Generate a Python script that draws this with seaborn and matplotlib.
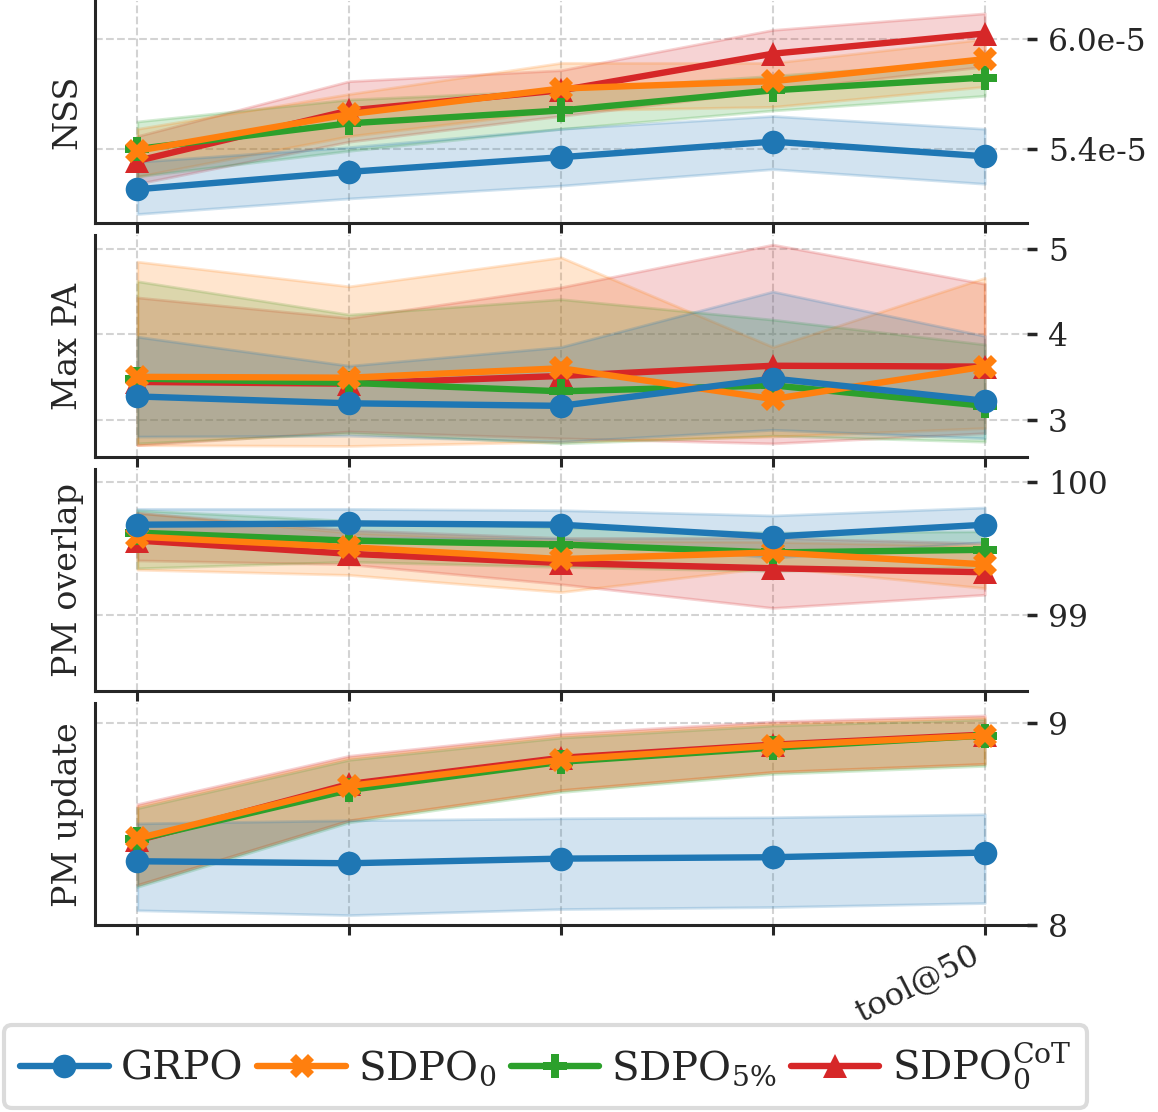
import seaborn as sns
import matplotlib.pyplot as plt
import pandas as pd

# x positions (checkpoints) and tick labels, only the last one is shown
steps = [0, 1, 2, 3, 4]
xtick_labels = ["", "", "", "", "tool@50"]

methods = ["GRPO", "SDPO0", "SDPO5", "SDPOcot"]
legend_labels = ["GRPO", r"SDPO$_0$", r"SDPO$_{5\%}$", r"SDPO$_0^{\mathrm{CoT}}$"]
colors = ["#1f77b4", "#ff7f0e", "#2ca02c", "#d62728"]
markers = ["o", "X", "P", "^"]

# NSS (x1e-5), rows in order of `methods`
nss_mean = [[5.18, 5.275, 5.355, 5.44, 5.36],
            [5.39, 5.59, 5.73, 5.77, 5.89],
            [5.40, 5.54, 5.61, 5.72, 5.79],
            [5.335, 5.61, 5.72, 5.92, 6.03]]
nss_lo = [[5.045, 5.13, 5.20, 5.29, 5.21],
          [5.25, 5.47, 5.61, 5.63, 5.74],
          [5.25, 5.39, 5.51, 5.61, 5.69],
          [5.21, 5.44, 5.58, 5.72, 5.85]]
nss_hi = [[5.33, 5.41, 5.51, 5.58, 5.51],
          [5.51, 5.70, 5.87, 5.87, 6.00],
          [5.55, 5.67, 5.72, 5.80, 5.88],
          [5.47, 5.77, 5.83, 6.05, 6.14]]

# Max PA
pa_mean = [[3.27, 3.19, 3.16, 3.48, 3.22],
           [3.50, 3.49, 3.60, 3.24, 3.62],
           [3.48, 3.43, 3.33, 3.40, 3.16],
           [3.44, 3.42, 3.51, 3.63, 3.62]]
pa_lo = [[2.80, 2.81, 2.74, 2.88, 2.78],
         [2.70, 2.69, 2.74, 2.80, 2.90],
         [2.72, 2.84, 2.72, 2.81, 2.74],
         [2.70, 2.86, 2.78, 2.72, 2.84]]
pa_hi = [[3.97, 3.63, 3.85, 4.50, 3.98],
         [4.85, 4.56, 4.90, 3.85, 4.66],
         [4.62, 4.23, 4.41, 4.17, 3.88],
         [4.43, 4.19, 4.55, 5.05, 4.59]]

# PM overlap
ov_mean = [[99.68, 99.69, 99.68, 99.59, 99.68],
           [99.59, 99.51, 99.42, 99.47, 99.38],
           [99.62, 99.56, 99.53, 99.47, 99.49],
           [99.56, 99.46, 99.39, 99.35, 99.32]]
ov_lo = [[99.56, 99.58, 99.57, 99.43, 99.55],
         [99.34, 99.30, 99.17, 99.36, 99.20],
         [99.35, 99.40, 99.36, 99.33, 99.36],
         [99.41, 99.38, 99.23, 99.05, 99.15]]
ov_hi = [[99.80, 99.80, 99.79, 99.75, 99.81],
         [99.77, 99.62, 99.56, 99.55, 99.52],
         [99.79, 99.71, 99.66, 99.62, 99.63],
         [99.77, 99.64, 99.58, 99.58, 99.54]]

# PM update
up_mean = [[8.317, 8.307, 8.33, 8.337, 8.36],
           [8.43, 8.69, 8.82, 8.89, 8.94],
           [8.425, 8.67, 8.81, 8.88, 8.94],
           [8.42, 8.70, 8.83, 8.895, 8.945]]
up_lo = [[8.074, 8.05, 8.08, 8.09, 8.11],
         [8.20, 8.52, 8.67, 8.76, 8.80],
         [8.19, 8.51, 8.66, 8.75, 8.79],
         [8.20, 8.52, 8.67, 8.76, 8.80]]
up_hi = [[8.505, 8.52, 8.53, 8.535, 8.55],
         [8.59, 8.83, 8.94, 9.00, 9.03],
         [8.58, 8.82, 8.93, 8.99, 9.02],
         [8.60, 8.84, 8.95, 9.01, 9.04]]

panels = [
    ("NSS", nss_mean, nss_lo, nss_hi, 1e-5, (4.996e-5, 6.207e-5), [5.4e-5, 6.0e-5], ["5.4e-5", "6.0e-5"]),
    ("Max PA", pa_mean, pa_lo, pa_hi, 1, (2.56, 5.16), [3, 4, 5], ["3", "4", "5"]),
    ("PM overlap", ov_mean, ov_lo, ov_hi, 1, (98.42, 100.10), [99, 100], ["99", "100"]),
    ("PM update", up_mean, up_lo, up_hi, 1, (8.0, 9.1), [8, 9], ["8", "9"]),
]

sns.set_style("ticks")
plt.rcParams["font.family"] = ["DejaVu Serif"]
plt.rcParams["mathtext.fontset"] = "dejavuserif"

fig, axes = plt.subplots(4, 1, figsize=(11.58, 11.12), dpi=100, sharex=True)
fig.subplots_adjust(left=0.082, right=0.887, top=0.999, bottom=0.168, hspace=0.055)

for ax, (name, mean, lo, hi, scale, ylim, yt, ytl) in zip(axes, panels):
    # draw in reverse so GRPO ends on top
    for i in reversed(range(len(methods))):
        df = pd.DataFrame({"step": steps,
                           "value": [v * scale for v in mean[i]]})
        ax.fill_between(steps, [v * scale for v in lo[i]], [v * scale for v in hi[i]],
                        color=colors[i], alpha=0.2, linewidth=2)
        sns.lineplot(data=df, x="step", y="value", ax=ax, color=colors[i],
                     marker=markers[i], markersize=17, markeredgewidth=0,
                     linewidth=4.6, label=legend_labels[i])
    if ax.get_legend() is not None:
        ax.get_legend().remove()
    ax.set_ylim(*ylim)
    ax.set_yticks(yt)
    ax.set_yticklabels(ytl, fontsize=22.5)
    ax.yaxis.tick_right()
    ax.set_ylabel(name, fontsize=24, labelpad=8)
    ax.set_xlabel("")
    ax.grid(True, linestyle="--", color="lightgrey", linewidth=1.5)
    ax.set_axisbelow(True)
    sns.despine(ax=ax, top=True, right=True, left=False, bottom=False)
    for s in ["left", "bottom"]:
        ax.spines[s].set_linewidth(2.2)
    ax.tick_params(axis="y", length=7, width=2.5, pad=8)
    ax.tick_params(axis="x", length=7, width=2.2)

axes[-1].set_xticks(steps)
axes[-1].set_xticklabels(xtick_labels, rotation=27, ha="right", fontsize=23)
axes[-1].set_xlim(-0.2, 4.2)

handles, labels = axes[-1].get_legend_handles_labels()
order = [labels.index(l) for l in legend_labels]
leg = fig.legend([handles[k] for k in order], legend_labels, loc="lower left",
                 bbox_to_anchor=(0.0, 0.0), ncol=4, fontsize=29, frameon=True,
                 fancybox=True, edgecolor="lightgrey", columnspacing=0.35,
                 handletextpad=0.3, handlelength=2.2, borderaxespad=0.1)
leg.get_frame().set_linewidth(3)

plt.savefig("out.png", dpi=100)
